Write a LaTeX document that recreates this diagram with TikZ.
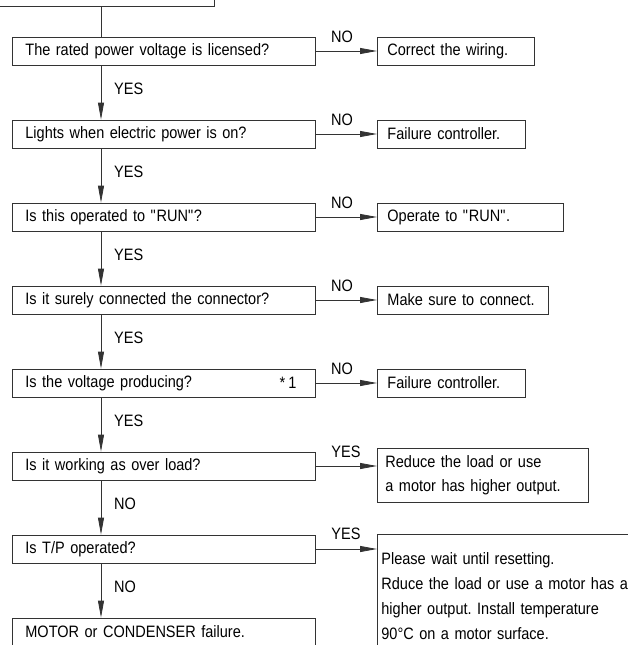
\documentclass[tikz,border=0pt]{standalone}
\usepackage{fontspec}
\setmainfont{Liberation Sans}[FakeStretch=0.88, WordSpace=0.8]
\usetikzlibrary{arrows.meta,calc}
\hyphenpenalty=10000
\exhyphenpenalty=10000
\frenchspacing
\begin{document}
\begin{tikzpicture}[x=1pt,y=-1pt,
  font=\fontsize{16.5}{25}\selectfont,
  box/.style={draw=black!80, line width=0.8pt, anchor=west, minimum height=28pt, inner ysep=0pt, align=left},
  lbox/.style={box, text width=277pt, inner xsep=13pt},
  rbox/.style={box, inner xsep=10pt},
  arr/.style={draw=black!80, line width=0.8pt, -{Triangle[length=17pt,width=6pt]}},
  ln/.style={draw=black!80, line width=0.8pt},
  lab/.style={inner sep=0pt}]
\useasboundingbox (0,0) rectangle (628,645);
\clip (0,0) rectangle (628,645);
\coordinate (col) at (101,0);
% top box (cut off)
\node[draw=black!80, line width=0.8pt, anchor=south east, minimum width=260pt, minimum height=40pt] (top) at (215,7) {};
% left column
\node[lbox] (b1) at (12,51) {The rated power voltage is licensed?};
\node[lbox] (b2) at (12,134) {Lights when electric power is on?};
\node[lbox] (b3) at (12,217) {Is this operated to \textquotedbl RUN\textquotedbl ?};
\node[lbox] (b4) at (12,300) {Is it surely connected the connector?};
\node[lbox] (b5) at (12,383) {Is the voltage producing?};
\node[lab] (star) at (288,383) {* 1};
\node[lbox] (b6) at (12,466) {Is it working as over load?};
\node[lbox] (b7) at (12,549) {Is T/P operated?};
\node[lbox] (b8) at (12,632) {MOTOR or CONDENSER failure.};
% right column
\node[rbox, text width=137pt] (r1) at (377,51) {Correct the wiring.};
\node[rbox, text width=128pt] (r2) at (377,134) {Failure controller.};
\node[rbox, text width=166pt] (r3) at (377,217) {Operate to \textquotedbl RUN\textquotedbl .};
\node[rbox, text width=151pt] (r4) at (377,300) {Make sure to connect.};
\node[rbox, text width=128pt] (r5) at (377,383) {Failure controller.};
\node[rbox, text width=195pt, inner xsep=8pt, minimum height=54pt, font=\fontsize{16.5}{24}\selectfont] (r6) at (377,475) {Reduce the load or use\\a motor has higher output.};
\node[draw=black!80, line width=0.8pt, anchor=north west, align=left, text width=270pt, inner xsep=4pt, inner ysep=18pt] (r7) at (377,534)
  {Please wait until resetting.\\Rduce the load or use a motor has a\\higher output. Install temperature\\90°C on a motor surface.};
% vertical connectors
\draw[ln] (top.south -| col) -- (b1.north -| col);
\draw[arr] (b1.south -| col) -- (b2.north -| col);
\draw[arr] (b2.south -| col) -- (b3.north -| col);
\draw[arr] (b3.south -| col) -- (b4.north -| col);
\draw[arr] (b4.south -| col) -- (b5.north -| col);
\draw[arr] (b5.south -| col) -- (b6.north -| col);
\draw[arr] (b6.south -| col) -- (b7.north -| col);
\draw[arr] (b7.south -| col) -- (b8.north -| col);
\node[lab, anchor=west] (y1) at (114,89) {YES};
\node[lab, anchor=west] (y2) at (114,172) {YES};
\node[lab, anchor=west] (y3) at (114,255) {YES};
\node[lab, anchor=west] (y4) at (114,338) {YES};
\node[lab, anchor=west] (y5) at (114,421) {YES};
\node[lab, anchor=west] (n6) at (114,504) {NO};
\node[lab, anchor=west] (n7) at (114,587) {NO};
% horizontal connectors
\draw[arr] (b1.east) -- (r1.west);
\draw[arr] (b2.east) -- (r2.west);
\draw[arr] (b3.east) -- (r3.west);
\draw[arr] (b4.east) -- (r4.west);
\draw[arr] (b5.east) -- (r5.west);
\draw[arr] (b6.east) -- (b6.east -| r6.west);
\draw[arr] (b7.east) -- (b7.east -| r7.west);
\node[lab] (h1) at (342,37) {NO};
\node[lab] (h2) at (342,120) {NO};
\node[lab] (h3) at (342,203) {NO};
\node[lab] (h4) at (342,286) {NO};
\node[lab] (h5) at (342,369) {NO};
\node[lab] (h6) at (346,452) {YES};
\node[lab] (h7) at (346,534) {YES};
\end{tikzpicture}
\end{document}
